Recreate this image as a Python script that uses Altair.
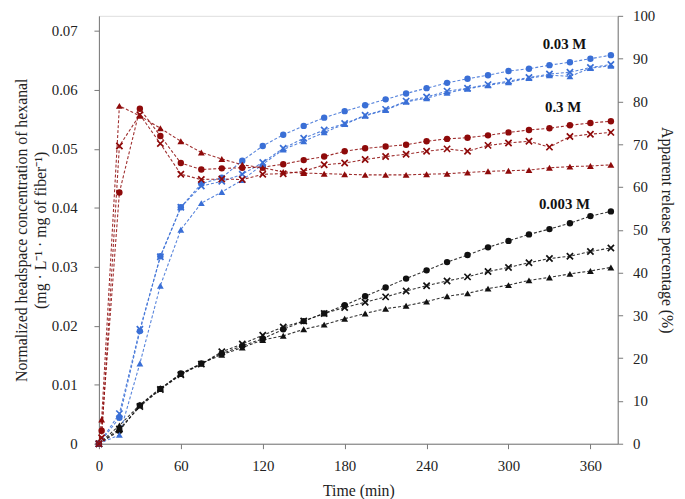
import altair as alt
import pandas as pd

# ---- data ----
times = [0, 15, 30, 45, 60, 75, 90, 105, 120, 135, 150, 165, 180, 195,
         210, 225, 240, 255, 270, 285, 300, 315, 330, 345, 360, 375]
times_red = [0, 2] + times[1:]

black_circle = [0, 0.0022, 0.0065, 0.0093, 0.0119, 0.0136, 0.0153, 0.0166, 0.0178, 0.0194,
                0.0208, 0.0221, 0.0235, 0.0250, 0.0265, 0.0280, 0.0294, 0.0308, 0.0320,
                0.0333, 0.0344, 0.0355, 0.0364, 0.0374, 0.0386, 0.0394]
black_x = [0, 0.0025, 0.0063, 0.0092, 0.0117, 0.0135, 0.0156, 0.0169, 0.0184, 0.0198,
           0.0208, 0.0221, 0.0231, 0.0240, 0.0249, 0.0259, 0.0268, 0.0276, 0.0283,
           0.0292, 0.0299, 0.0307, 0.0314, 0.0318, 0.0326, 0.0332]
black_tri = [0, 0.0031, 0.0066, 0.0094, 0.0118, 0.0136, 0.0151, 0.0163, 0.0176, 0.0183,
             0.0194, 0.0202, 0.0212, 0.0221, 0.0229, 0.0234, 0.0241, 0.0250, 0.0255,
             0.0263, 0.0269, 0.0277, 0.0282, 0.0288, 0.0293, 0.0299]

blue_circle = [0, 0.0044, 0.0191, 0.0318, 0.0401, 0.0441, 0.0451, 0.0480, 0.0505, 0.0524,
               0.0539, 0.0553, 0.0564, 0.0574, 0.0584, 0.0594, 0.0603, 0.0612, 0.0619,
               0.0625, 0.0632, 0.0636, 0.0642, 0.0647, 0.0653, 0.0659]
blue_x = [0, 0.0051, 0.0194, 0.0317, 0.0401, 0.0437, 0.0445, 0.0457, 0.0477, 0.0501,
          0.0518, 0.0532, 0.0543, 0.0557, 0.0567, 0.0581, 0.0588, 0.0598, 0.0603,
          0.0609, 0.0615, 0.0621, 0.0627, 0.0630, 0.0638, 0.0643]
blue_tri = [0, 0.0015, 0.0136, 0.0268, 0.0363, 0.0408, 0.0427, 0.0447, 0.0474, 0.0499,
            0.0513, 0.0528, 0.0542, 0.0556, 0.0566, 0.0580, 0.0586, 0.0595, 0.0602,
            0.0608, 0.0613, 0.0620, 0.0625, 0.0623, 0.0637, 0.0641]

red_circle = [0, 0.0022, 0.0426, 0.0568, 0.0522, 0.0476, 0.0465, 0.0467, 0.0468, 0.0469,
              0.0474, 0.0481, 0.0487, 0.0496, 0.0501, 0.0504, 0.0507, 0.0513, 0.0517,
              0.0519, 0.0523, 0.0528, 0.0532, 0.0535, 0.0540, 0.0544, 0.0547]
red_x = [0, 0.0010, 0.0505, 0.0558, 0.0509, 0.0457, 0.0448, 0.0449, 0.0448, 0.0457,
         0.0458, 0.0462, 0.0473, 0.0476, 0.0482, 0.0487, 0.0491, 0.0496, 0.0500,
         0.0496, 0.0506, 0.0510, 0.0513, 0.0503, 0.0521, 0.0525, 0.0528]
red_tri = [0, 0.0041, 0.0573, 0.0556, 0.0535, 0.0513, 0.0494, 0.0483, 0.0473, 0.0468,
           0.0461, 0.0459, 0.0458, 0.0457, 0.0456, 0.0456, 0.0456, 0.0457, 0.0458,
           0.0460, 0.0462, 0.0463, 0.0464, 0.0468, 0.0470, 0.0471, 0.0473]

concs = ["0.003 M", "0.03 M", "0.3 M"]
conc_colors = ["#111111", "#3A6FD6", "#8E0A0A"]

label_text = ["0.03 M", "0.3 M", "0.003 M"]
label_t = [341, 340, 341]
label_v = [0.0677, 0.0571, 0.0407]

x_ticks = [0, 60, 120, 180, 240, 300, 360]
y_ticks = [i * 0.005 for i in range(15)]
pct_ticks = list(range(0, 101, 10))

# ---- build table ----
rows = []
def add(conc, marker, ts, vals):
    for t, v in zip(ts, vals):
        rows.append({"time": t, "value": v, "conc": conc, "marker": marker,
                     "series": conc + "-" + marker})

add("0.003 M", "circle", times, black_circle)
add("0.003 M", "x", times, black_x)
add("0.003 M", "tri", times, black_tri)
add("0.03 M", "circle", times, blue_circle)
add("0.03 M", "x", times, blue_x)
add("0.03 M", "tri", times, blue_tri)
add("0.3 M", "circle", times_red, red_circle)
add("0.3 M", "x", times_red, red_x)
add("0.3 M", "tri", times_red, red_tri)
df = pd.DataFrame(rows)

labels_df = pd.DataFrame({"text": label_text, "time": label_t, "value": label_v})
pct_df = pd.DataFrame({"pct": [0, 100]})

FONT = "Liberation Serif"
PLOT_H = 433
YTOP = PLOT_H / 5967.0

xenc = alt.X("time:Q", scale=alt.Scale(domain=[0, 380], nice=False, zero=False),
             axis=alt.Axis(values=x_ticks, title="Time (min)", grid=False,
                           labelFontSize=15, titleFontSize=16, labelFont=FONT, titleFont=FONT,
                           titleFontWeight="normal",
                           tickSize=5, labelPadding=10, titlePadding=9,
                           domainColor="#777", tickColor="#777",
                           labelColor="#222", titleColor="#222", labelFlush=False))
yenc = alt.Y("value:Q", scale=alt.Scale(domain=[0, YTOP], nice=False),
             axis=alt.Axis(values=y_ticks, orient="left", grid=False,
                           title=["Normalized headspace  concentration of hexanal",
                                  "(mg \u00b7 L\u207b\u00b9 \u00b7 mg of fiber\u207b\u00b9)"],
                           labelExpr="(round(datum.value*1000) % 10 == 0) ? (datum.value == 0 ? '0' : format(datum.value, '.2f')) : ''",
                           labelFontSize=15, titleFontSize=16, labelFont=FONT, titleFont=FONT,
                           tickSize=5, labelPadding=17,
                           titleX=-78, titleY=PLOT_H / 2, titleAngle=-90, titleBaseline="middle",
                           titleAlign="center", titleLineHeight=19,
                           domainColor="#777", tickColor="#777",
                           labelColor="#222", titleColor="#222", titleFontWeight="normal",
                           labelFlush=False))
color = alt.Color("conc:N", scale=alt.Scale(domain=concs, range=conc_colors), legend=None)

base = alt.Chart(df)
lines = base.mark_line(strokeDash=[3, 2], strokeWidth=1.1, opacity=0.85).encode(
    x=xenc, y=yenc, color=color, detail="series:N")
circles = base.transform_filter(alt.datum.marker == "circle").mark_point(
    shape="circle", filled=True, size=42, opacity=1).encode(x="time:Q", y="value:Q", color=color)
tris = base.transform_filter(alt.datum.marker == "tri").mark_point(
    shape="triangle-up", filled=True, size=48, opacity=1).encode(x="time:Q", y="value:Q", color=color)
xs = base.transform_filter(alt.datum.marker == "x").mark_point(
    shape="M-1,-1L1,1M-1,1L1,-1", filled=False, size=40, strokeWidth=1.7, opacity=1).encode(
    x="time:Q", y="value:Q", color=color)
texts = alt.Chart(labels_df).mark_text(font=FONT, fontSize=15, fontWeight="bold",
                                       color="#111").encode(
    x="time:Q", y="value:Q", text="text:N")

main = alt.layer(lines, circles, tris, xs, texts)

right = alt.Chart(pct_df).mark_point(opacity=0).encode(
    y=alt.Y("pct:Q", scale=alt.Scale(domain=[0, 100], nice=False),
            axis=alt.Axis(orient="right", values=pct_ticks, grid=False,
                          title="Apparent  release  percentage  (%)",
                          labelFontSize=15, titleFontSize=16, labelFont=FONT, titleFont=FONT,
                          tickSize=5, labelPadding=10, titleAngle=90,
                          titleX=49, titleY=PLOT_H / 2, titleBaseline="middle", titleAlign="center",
                          domainColor="#777", tickColor="#777",
                          labelColor="#222", titleColor="#222", titleFontWeight="normal",
                          labelFlush=False))
)

chart = alt.layer(main, right).resolve_scale(y="independent").properties(
    width=525, height=PLOT_H,
    autosize=alt.AutoSizeParams(type="none"),
    padding={"left": 92, "top": 5, "right": 60, "bottom": 53},
).configure_view(stroke="#999", strokeWidth=1).configure(background="white")

chart.save("out.html", embed_options={"renderer": "svg", "actions": False})
